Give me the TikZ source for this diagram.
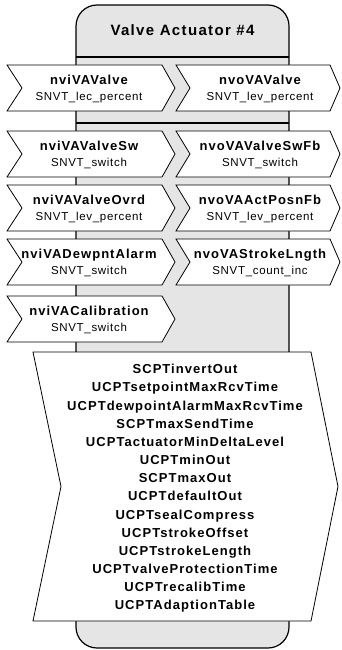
\documentclass[tikz,border=0pt]{standalone}
\usepackage{fontspec}
\setmainfont{Liberation Sans}
\newfontfamily\titlefam[LetterSpace=9]{Liberation Sans}
\newfontfamily\labfam[LetterSpace=8]{Liberation Sans}
\newfontfamily\typfam[LetterSpace=6]{Liberation Sans}
\definecolor{bodygrey}{RGB}{229,229,229}
\tikzset{
  bodybox/.style={draw=black, line width=1.2pt, fill=bodygrey, rounded corners=21pt, minimum width=213pt, minimum height=643pt, inner sep=0pt},
  divline/.style={draw=black, line width=1.2pt},
  port/.style={draw=black, line width=0.8pt, fill=white, line join=miter},
  titletext/.style={font=\titlefam\bfseries\fontsize{15}{17}\selectfont, inner sep=0pt, anchor=base},
  nvname/.style={font=\labfam\bfseries\fontsize{13}{15}\selectfont, inner sep=0pt, anchor=base},
  nvtype/.style={font=\typfam\fontsize{11.5}{13}\selectfont, inner sep=0pt, anchor=base},
  cpname/.style={font=\labfam\bfseries\fontsize{13}{15}\selectfont, inner sep=0pt, anchor=base}
}
\newcommand\inport[4]{%
  \draw[port] (7,#1-23) -- (162,#1-23) -- (175,#1) -- (162,#1+23) -- (7,#1+23) -- (22,#1) -- cycle;
  \node[nvname] (#2n) at (89,#1-3.4) {#3};
  \node[nvtype] (#2t) at (89,#1+12.8) {#4};
}
\newcommand\outport[4]{%
  \draw[port] (176,#1-23) -- (330,#1-23) -- (340,#1) -- (330,#1+23) -- (176,#1+23) -- (190,#1) -- cycle;
  \node[nvname] (#2n) at (260,#1-3.4) {#3};
  \node[nvtype] (#2t) at (260,#1+12.8) {#4};
}
\begin{document}
\begin{tikzpicture}[x=1pt,y=-1pt]
\useasboundingbox (0,0) rectangle (341,650);
% device body
\node[bodybox] (body) at (182.5,326.5) {};
\coordinate (d1l) at (76,57);  \coordinate (d1r) at (289,57);
\coordinate (d2l) at (76,123); \coordinate (d2r) at (289,123);
\draw[divline] (d1l) -- (d1r);
\draw[divline] (d2l) -- (d2r);
\node[titletext] (title) at (182.5,36) {Valve Actuator \#4};
% network variables
\inport{88}{ia}{nviVAValve}{SNVT\_lec\_percent}
\outport{88}{oa}{nvoVAValve}{SNVT\_lev\_percent}
\inport{154}{ib}{nviVAValveSw}{SNVT\_switch}
\outport{154}{ob}{nvoVAValveSwFb}{SNVT\_switch}
\inport{208}{ic}{nviVAValveOvrd}{SNVT\_lev\_percent}
\outport{208}{oc}{nvoVAActPosnFb}{SNVT\_lev\_percent}
\inport{262}{id}{nviVADewpntAlarm}{SNVT\_switch}
\outport{262}{od}{nvoVAStrokeLngth}{SNVT\_count\_inc}
\inport{319}{ie}{nviVACalibration}{SNVT\_switch}
% configuration properties
\draw[port] (33,352) -- (311,352) -- (338,486.5) -- (311,621) -- (33,621) -- (61,486.5) -- cycle;
\foreach \t [count=\k from 0] in {SCPTinvertOut,UCPTsetpointMaxRcvTime,UCPTdewpointAlarmMaxRcvTime,SCPTmaxSendTime,UCPTactuatorMinDeltaLevel,UCPTminOut,SCPTmaxOut,UCPTdefaultOut,UCPTsealCompress,UCPTstrokeOffset,UCPTstrokeLength,UCPTvalveProtectionTime,UCPTrecalibTime,UCPTAdaptionTable}
  \node[cpname] (cp\k) at (185,373.8+18.15*\k) {\t};
\end{tikzpicture}
\end{document}
